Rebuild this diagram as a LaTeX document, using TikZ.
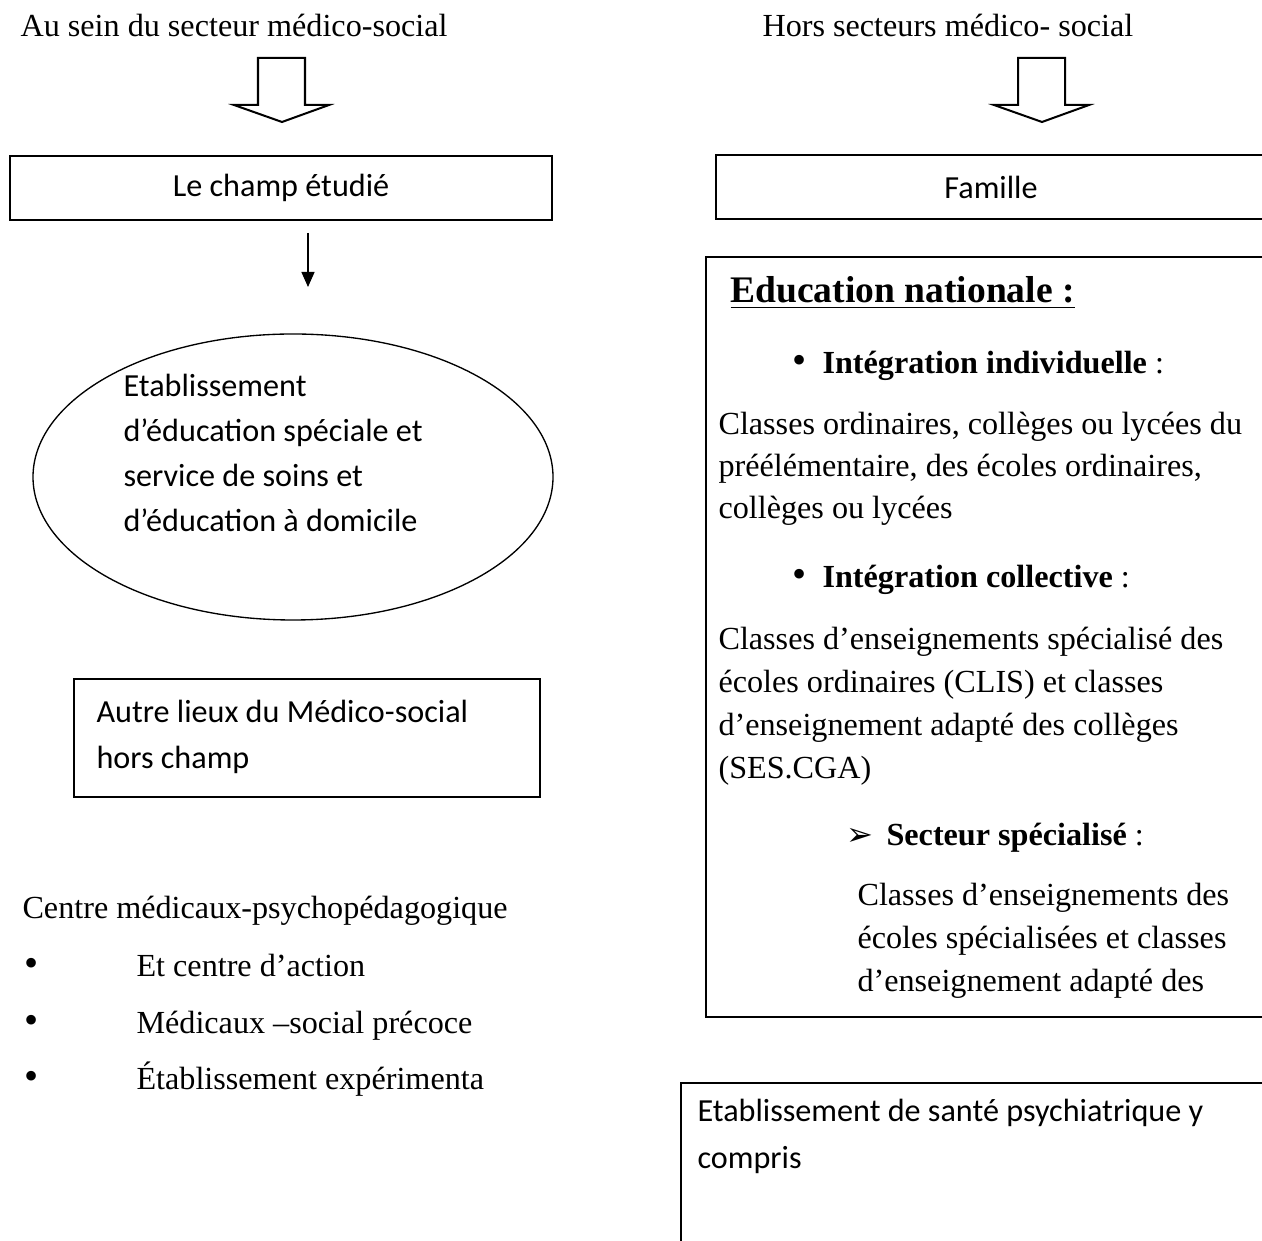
\documentclass[tikz,border=0pt]{standalone}
\usepackage{fontspec}
\setmainfont{Liberation Serif}
\newfontfamily\calibri{Carlito}
\newfontfamily\dejavu{DejaVu Sans}
\usetikzlibrary{arrows.meta, positioning, shapes.geometric, calc}
\newcommand{\px}{0.373pt}
\tikzset{
  bodytext/.style={inner sep=0pt, anchor=base west, font=\fontsize{12}{13.8}\selectfont},
  cbtext/.style={inner sep=0pt, font=\calibri\fontsize{12}{16.8}\selectfont},
  framebox/.style={draw, line width=0.75pt, rectangle},
  hollowarr/.style={draw, line width=0.75pt, line join=miter},
  thinarr/.style={-{Triangle[length=15*\px,width=13*\px]}, line width=0.5pt},
  headtext/.style={inner sep=0pt, anchor=base west, font=\fontsize{14}{16}\selectfont\bfseries}
}
\newcommand{\bul}{{\fontsize{15}{15}\selectfont\textbullet}}

\begin{document}
\begin{tikzpicture}[x=\px, y=-\px]
  \useasboundingbox (0,0) rectangle (1262,1241);
  \clip (0,0) rectangle (1262,1241);

  % titles
  \node[bodytext] (lefttitle) at (20,37) {Au sein du secteur médico-social};
  \node[bodytext] (righttitle) at (762,37) {Hors secteurs médico- social};

  % hollow arrows
  \coordinate (lhead) at (282,58);
  \coordinate (rhead) at (1042,58);
  \foreach \c in {lhead,rhead}
    \draw[hollowarr] (\c) ++(-24,0) -- ++(47,0) -- ++(0,47) -- ++(24,0)
      -- ++(-47,17) -- ++(-48,-17) -- ++(24,0) -- cycle;

  % left column
  \node[framebox,cbtext,minimum width=542*\px,minimum height=64*\px] (champ) at (281,188) {Le champ étudié};
  \coordinate (champarr) at (308,233);
  \coordinate (etabarr) at (308,287);
  \draw[thinarr] (champarr) -- (etabarr);

  \node[draw,ellipse,line width=0.5pt,inner sep=0pt,minimum width=520*\px,minimum height=286*\px] (etab) at (293,477) {};
  \node[cbtext,align=left,anchor=north west] (etabtext) at (123,374)
    {Etablissement\\d’éducation spéciale et\\service de soins et\\d’éducation à domicile};

  \node[framebox,minimum width=466*\px,minimum height=118*\px] (autre) at (307,738) {};
  \node[cbtext,align=left,anchor=north west,font=\calibri\fontsize{12}{17.2}\selectfont] (autretext) at (96,700)
    {Autre lieux du Médico-social\\hors champ};

  \node[bodytext] (centre) at (22,919) {Centre médicaux-psychopédagogique};
  \node[bodytext] (b1) at (24,977) {\bul};
  \node[bodytext] (b2) at (24,1034) {\bul};
  \node[bodytext] (b3) at (24,1090) {\bul};
  \node[bodytext] (item1) at (136,977) {Et centre d’action};
  \node[bodytext] (item2) at (136,1034) {Médicaux –social précoce};
  \node[bodytext] (item3) at (136,1090) {Établissement expérimenta};

  % right column
  \node[framebox,cbtext,minimum width=550*\px,minimum height=64*\px] (famille) at (991,187) {Famille};

  \node[framebox,anchor=north west,inner sep=0pt,minimum width=580*\px,minimum height=760*\px] (edubox) at (705,256) {};
  \node[headtext] (eduhead) at (730,303) {\underline{Education nationale :}};
  \node[bodytext] (eb1) at (792,374) {\bul};
  \node[bodytext] (indiv) at (822,374) {\textbf{Intégration individuelle} :};
  \node[bodytext] (l1) at (718,435) {Classes ordinaires, collèges ou lycées du};
  \node[bodytext] (l2) at (718,477) {préélémentaire, des écoles ordinaires,};
  \node[bodytext] (l3) at (718,519) {collèges ou lycées};
  \node[bodytext] (eb2) at (792,588) {\bul};
  \node[bodytext] (coll) at (822,588) {\textbf{Intégration collective} :};
  \node[bodytext] (l4) at (718,650) {Classes d’enseignements spécialisé des};
  \node[bodytext] (l5) at (718,693) {écoles ordinaires (CLIS) et classes};
  \node[bodytext] (l6) at (718,736) {d’enseignement adapté des collèges};
  \node[bodytext] (l7) at (718,779) {(SES.CGA)};
  \node[bodytext] (eb3) at (846,846) {\dejavu\fontsize{12}{12}\selectfont ➢};
  \node[bodytext] (spec) at (886,846) {\textbf{Secteur spécialisé} :};
  \node[bodytext] (l8) at (857,906) {Classes d’enseignements des};
  \node[bodytext] (l9) at (857,949) {écoles spécialisées et classes};
  \node[bodytext] (l10) at (857,992) {d’enseignement adapté des};

  \node[framebox,anchor=north west,inner sep=0pt,minimum width=600*\px,minimum height=200*\px] (santebox) at (680,1082) {};
  \node[cbtext,align=left,anchor=north west,font=\calibri\fontsize{12}{17.5}\selectfont] (santetext) at (697,1099)
    {Etablissement de santé psychiatrique y\\compris};
\end{tikzpicture}
\end{document}
